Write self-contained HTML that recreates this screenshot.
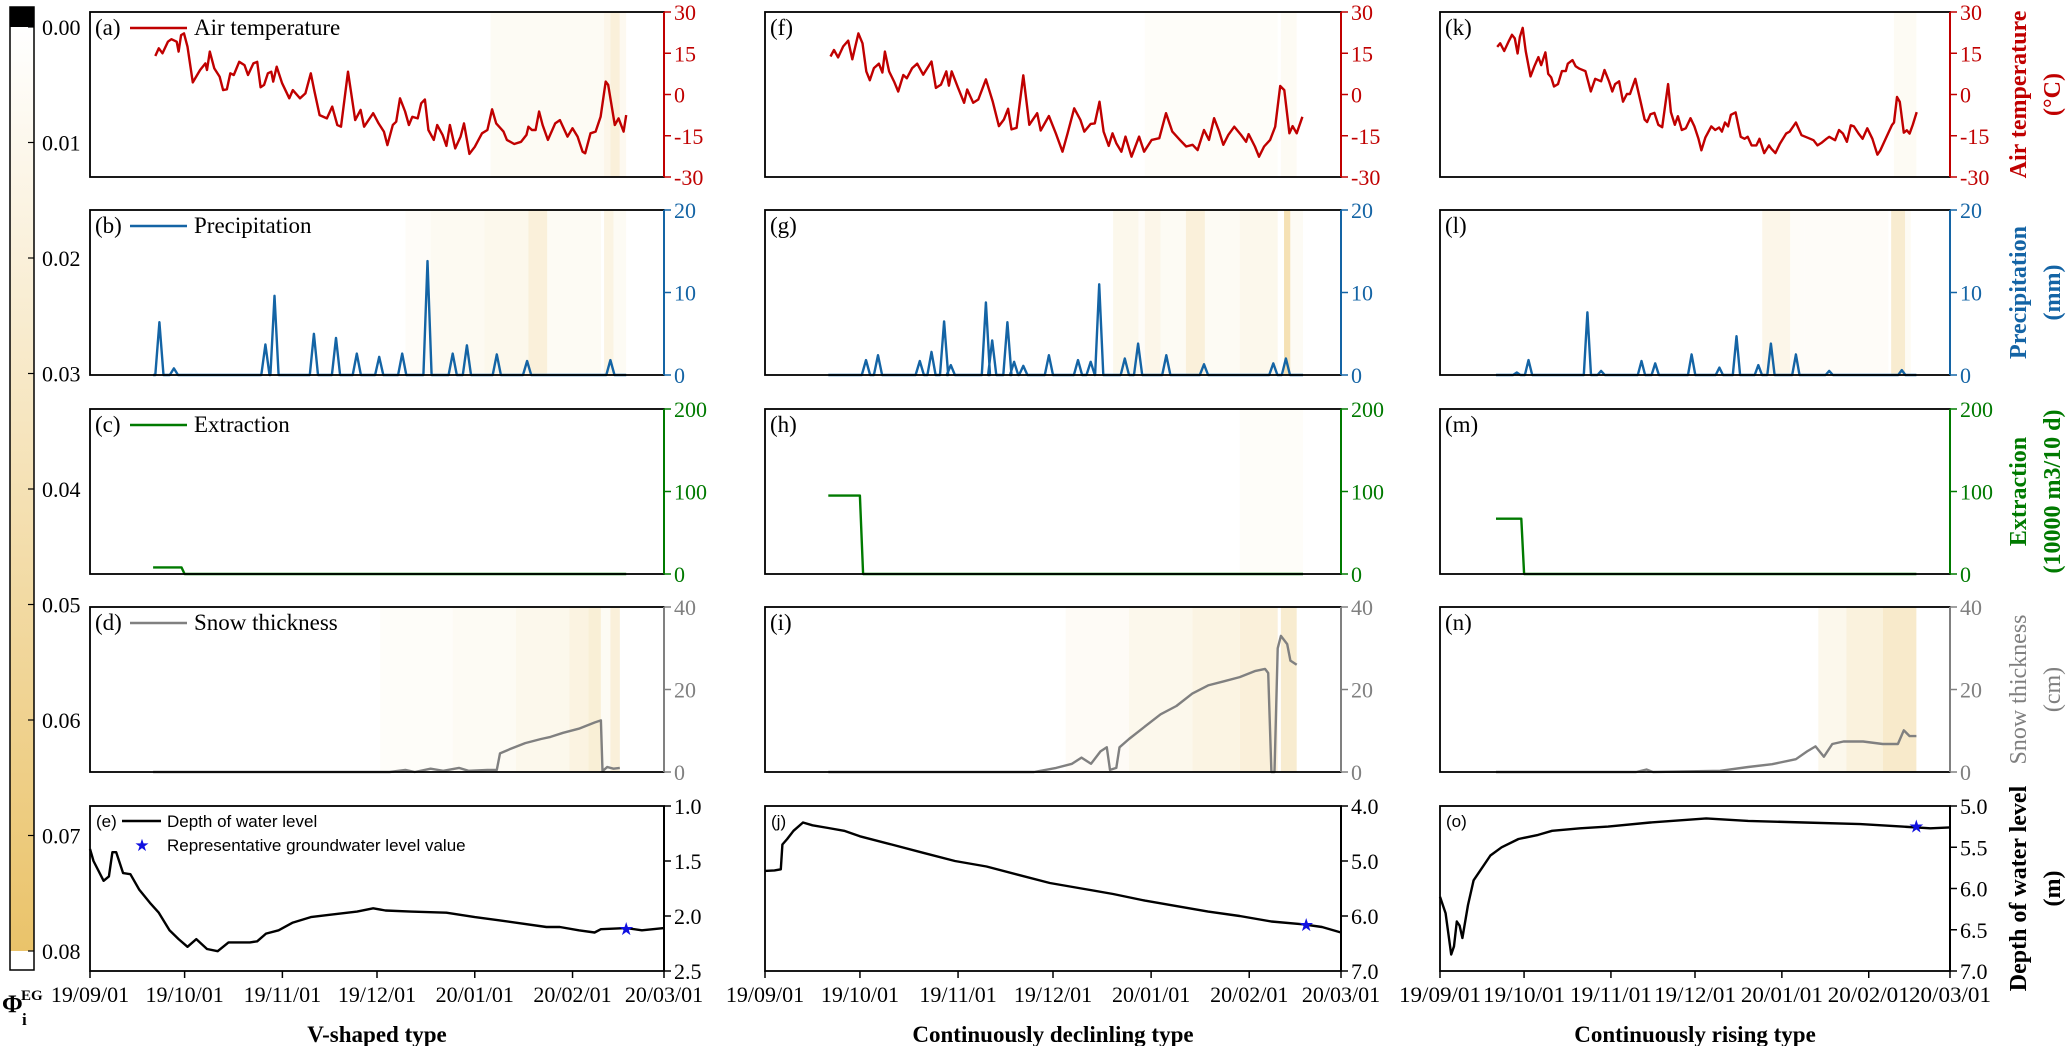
<!DOCTYPE html>
<html><head><meta charset="utf-8"><title>Groundwater types</title>
<style>
html,body{margin:0;padding:0;background:#fff;}
svg{display:block;font-family:"Liberation Serif",serif;}
</style></head>
<body>
<svg id="chart" width="2067" height="1046" viewBox="0 0 2067 1046" xmlns="http://www.w3.org/2000/svg">
<defs>
<linearGradient id="cbgrad" x1="0" y1="0" x2="0" y2="1">
<stop offset="0" stop-color="#ffffff"/><stop offset="1" stop-color="#eac36a"/>
</linearGradient>
</defs>
<g>
<rect x="10" y="7" width="24" height="20" fill="#000"/>
<rect x="10" y="27" width="24" height="924" fill="url(#cbgrad)"/>
<rect x="10" y="7" width="24" height="963" fill="none" stroke="#000" stroke-width="1.5"/>
<text x="2" y="1012" font-size="25" font-weight="bold">Φ</text>
<text x="21" y="1000" font-size="15" font-weight="bold">EG</text>
<text x="22" y="1025" font-size="17" font-weight="bold">i</text>
</g>
<g id="plots"></g>
</svg>
<script>
// ---------- data ----------
const tickDays = [0,30,61,91,122,153,182];
const tickLabels = ['19/09/01','19/10/01','19/11/01','19/12/01','20/01/01','20/02/01','20/03/01'];
const cbTicks = [0,0.01,0.02,0.03,0.04,0.05,0.06,0.07,0.08];
const typeLabels = ['V-shaped type','Continuously declinling type','Continuously rising type'];

const temp1Day = [20.7,21.8,23.0,24.7,25.8,27.5,28.1,28.9,29.8,30.9,32.6,34.9,36.6,37.1,38.0,39.4,41.1,42.2,43.4,44.5,45.6,47.3,49.0,50.1,51.8,53.0,54.1,55.2,56.4,57.5,58.1,59.2,60.9,63.2,64.3,66.6,68.3,70.0,71.1,72.8,75.1,76.8,78.4,79.6,81.8,84.1,85.8,86.9,89.8,91.5,93.2,94.3,96.0,97.1,98.3,99.9,101.1,102.2,103.9,105.0,106.2,107.3,109.0,110.1,111.8,113.0,114.1,115.8,117.5,118.6,120.3,122.0,124.3,126.0,127.5,128.8,131.1,132.2,134.5,136.7,138.4,139.0,140.1,141.3,142.4,143.5,145.2,147.5,149.0,151.4,153.0,154.6,156.2,157.0,158.7,160.3,161.9,163.5,164.3,166.4,167.6,169.2,170.0];
const temp1Val = [14.0,16.8,15.0,19.2,20.1,19.2,15.6,21.6,22.2,17.4,4.4,8.9,11.3,8.9,15.6,9.5,6.5,1.6,1.9,7.7,7.1,11.9,10.7,7.1,11.3,11.9,2.6,3.5,7.7,8.3,4.7,10.1,4.1,-1.4,1.6,-1.4,0.4,7.7,1.6,-7.5,-8.7,-4.4,-11.1,-11.7,8.3,-9.3,-5.6,-11.7,-6.8,-10.5,-13.5,-18.4,-11.1,-9.9,-1.4,-6.2,-11.1,-8.1,-8.7,-3.2,-1.8,-12.9,-16.5,-11.1,-14.7,-18.7,-11.1,-19.6,-15.3,-10.5,-21.6,-19.0,-14.1,-12.9,-5.4,-10.5,-13.5,-16.5,-18.0,-17.2,-14.7,-11.7,-12.9,-12.9,-6.2,-11.1,-16.5,-10.5,-9.3,-15.3,-12.3,-15.3,-20.8,-21.4,-14.1,-13.5,-8.1,4.7,3.5,-11.1,-8.7,-13.5,-7.5];
const temp2Day = [20.7,21.8,23.1,24.7,26.3,27.6,29.5,30.8,32.0,33.1,34.4,36.0,37.1,37.9,39.2,40.8,42.1,43.7,44.8,46.5,48.1,50.0,52.6,54.0,55.6,57.3,58.1,59.0,61.0,62.9,63.9,65.8,67.4,69.8,71.9,73.9,75.5,76.8,77.9,79.5,81.6,83.5,86.0,87.1,89.7,91.9,94.0,95.6,97.7,99.7,100.9,102.9,104.2,105.7,107.0,108.6,109.8,111.0,112.6,113.9,115.8,118.2,119.8,122.2,124.6,126.7,128.7,131.1,133.1,135.1,136.7,138.7,140.3,141.9,143.5,144.8,146.4,148.3,150.4,152.0,152.8,154.8,156.1,157.7,159.6,161.2,162.8,164.1,165.7,166.7,168.0,169.8];
const temp2Val = [13.8,16.2,13.5,17.5,19.6,12.8,22.2,18.6,8.4,5.2,9.6,11.2,8.0,15.6,8.4,4.7,1.1,7.1,5.9,9.6,11.2,7.2,12.0,2.4,3.6,8.4,3.2,8.4,2.4,-3.0,1.8,-3.0,-1.8,5.5,-2.4,-11.5,-9.1,-5.2,-12.7,-12.1,7.0,-11.0,-6.8,-13.1,-7.8,-14.1,-20.8,-14.1,-5.0,-9.3,-13.5,-10.7,-10.5,-2.6,-13.5,-18.7,-14.1,-17.7,-20.8,-15.3,-22.6,-15.3,-20.8,-16.5,-15.9,-6.8,-13.5,-16.5,-18.9,-18.3,-20.2,-12.9,-16.5,-8.6,-13.5,-18.3,-14.7,-11.7,-14.7,-17.2,-14.4,-18.9,-22.6,-18.9,-16.5,-11.7,3.1,1.6,-14.1,-11.5,-14.1,-8.1];
const temp3Day = [20.4,21.5,22.9,24.6,25.7,26.7,27.7,28.5,29.5,30.6,32.3,33.7,35.1,36.1,37.6,38.6,39.7,40.7,42.1,43.5,44.9,45.6,47.3,48.4,49.8,51.9,53.8,55.4,57.5,58.7,60.3,61.5,62.5,63.9,65.3,66.7,67.8,69.7,71.6,73.0,73.9,75.1,76.5,77.9,79.3,81.4,82.4,83.8,84.9,86.3,87.7,89.4,90.8,92.2,93.3,94.7,96.8,98.2,99.6,100.6,101.7,102.8,103.8,105.5,107.3,108.7,109.8,111.2,112.9,114.0,115.7,117.4,118.3,119.7,121.3,123.5,124.8,127.0,129.0,131.2,133.3,134.7,136.1,137.9,138.9,141.0,142.4,143.8,145.2,146.6,147.7,149.4,150.8,152.5,154.3,156.1,157.1,159.2,161.3,162.0,163.1,164.1,165.5,166.6,167.6,168.7,170.1];
const temp3Val = [17.3,18.6,15.8,19.5,21.7,20.4,14.9,21.0,24.2,15.8,6.6,10.3,13.6,10.7,15.3,7.5,6.2,2.9,3.8,8.5,8.5,11.2,12.5,10.3,9.4,8.5,1.1,5.7,4.8,8.9,4.8,1.1,3.8,4.8,-2.6,0.2,0.2,5.7,-2.6,-9.1,-10.0,-7.2,-6.7,-11.0,-11.9,3.8,-6.4,-11.0,-7.9,-12.9,-12.3,-8.6,-11.6,-16.0,-20.3,-15.6,-11.6,-12.9,-12.0,-13.5,-10.2,-11.6,-7.4,-6.5,-15.4,-16.1,-15.4,-18.5,-18.5,-16.1,-21.3,-18.5,-19.8,-21.3,-17.9,-14.2,-13.5,-10.2,-14.8,-15.7,-16.6,-18.5,-17.6,-16.1,-15.4,-16.6,-12.9,-14.2,-17.2,-11.2,-11.6,-14.2,-16.1,-12.3,-16.1,-21.9,-20.4,-15.7,-11.1,-10.2,-0.9,-2.7,-13.9,-13.0,-14.2,-11.1,-6.4];

const precip1Day = [22,26.6,55.6,58.5,71,78,84.6,91.7,99,107,115,119.5,129,138.6,165];
const precip1Val = [6.4,0.8,3.7,9.6,5.0,4.5,2.6,2.2,2.6,13.8,2.6,3.6,2.5,1.7,1.8];
const precip2Day = [31.9,35.7,48.9,52.6,56.6,58.7,69.8,71.8,76.6,78.7,81.6,89.7,98.9,102.9,105.6,113.7,117.9,126.8,138.7,160.6,164.6];
const precip2Val = [1.8,2.4,1.7,2.8,6.5,1.2,8.8,4.2,6.4,1.6,1.1,2.4,1.8,1.6,11.0,2.0,3.8,2.4,1.3,1.4,2.0];
const precip3Day = [27.4,31.6,52.6,57.5,71.9,76.8,89.8,99.7,105.8,113.6,118.1,127,138.9,164.8];
const precip3Val = [0.3,1.8,7.6,0.5,1.7,1.4,2.5,0.9,4.7,1.2,3.8,2.5,0.5,0.6];

const extr1Day = [20,29,30,170]; const extr1Val = [8,8,0,0];
const extr2Day = [20,30,31,170]; const extr2Val = [95,95,0,0];
const extr3Day = [20,29,30,170]; const extr3Val = [67,67,0,0];

const snow1Day = [20,95,100,103,108,112,117,120,126,129,130,133,138,143,146,150,155,160,162,162.5,164,166,168];
const snow1Val = [0,0,0.5,0,0.8,0.3,1.0,0.3,0.5,0.5,4.5,5.5,7,8,8.5,9.5,10.5,12,12.5,0.2,1.2,0.8,1];
const snow2Day = [20,85,92,97,100,103,106,108,109,111,112,115,120,125,130,135,140,145,150,155,158,159,160,161,162,163,165,166,168];
const snow2Val = [0,0,1,2,3.5,2,5,6,0.5,1,6,8,11,14,16,19,21,22,23,24.5,25,24,0,0,30,33,31,27,26];
const snow3Day = [20,70,73.7,76,100,110,118.5,127,131,134,137,140,144,151,158,163.4,165.5,167.6,170];
const snow3Val = [0,0,0.6,0,0.3,1.2,1.9,3.1,5,6.2,3.7,6.8,7.4,7.4,6.8,6.8,10.1,8.7,8.7];

const depth1Day = [0,1.1,4.3,6.0,7.1,8.3,10.5,12.8,15.6,19.0,21.8,25.2,28.1,30.9,33.7,37.1,40.5,43.9,50.7,53.0,55.8,59.8,64.3,70.0,75.6,84.7,89.8,93.7,101.7,113.0,122.0,130.0,144.7,149,155,160,162,170,175,182];
const depth1Val = [1.39,1.50,1.68,1.64,1.42,1.42,1.61,1.62,1.76,1.88,1.97,2.13,2.21,2.28,2.21,2.30,2.32,2.24,2.24,2.23,2.16,2.13,2.06,2.01,1.99,1.96,1.93,1.95,1.96,1.97,2.01,2.04,2.10,2.10,2.13,2.15,2.12,2.11,2.13,2.11];
const depth2Day = [0,3,5,5.5,7,9,12,15,20,25,30,40,50,60,70,80,90,100,110,120,130,140,150,160,170,176,182];
const depth2Val = [5.18,5.17,5.15,4.7,4.6,4.45,4.3,4.35,4.4,4.45,4.55,4.7,4.85,5.0,5.1,5.25,5.4,5.5,5.6,5.72,5.82,5.92,6.0,6.1,6.15,6.2,6.3];
const depth3Day = [0,2,4,5,6,7,8,10,12,15,18,22,28,35,40,50,60,75,95,110,130,150,165,175,182];
const depth3Val = [6.1,6.3,6.8,6.7,6.4,6.45,6.6,6.2,5.9,5.75,5.6,5.5,5.4,5.35,5.3,5.27,5.25,5.2,5.15,5.18,5.2,5.22,5.25,5.27,5.26];
const starDay = [170,171,170];
const starVal = [2.12,6.16,5.25];

// shading bands: [startDay, endDay, phi]
const shade = {
 '0-0':[[127,163,0.006],[163,165,0.012],[165,168,0.02],[168,170,0.008]],
 '0-1':[[100,108,0.004],[108,125,0.007],[125,139,0.01],[139,145,0.02],[145,162,0.006],[163,166,0.015],[166,170,0.006]],
 '0-3':[[92,115,0.003],[115,135,0.006],[135,152,0.01],[152,158,0.016],[158,162,0.022],[162,165,0.006],[165,168,0.02]],
 '1-0':[[120,162,0.003],[163,168,0.006]],
 '1-1':[[110,118,0.01],[118,120,0.004],[120,125,0.012],[125,133,0.006],[133,139,0.02],[139,150,0.006],[150,162,0.01],[164,166,0.04],[166,170,0.006]],
 '1-2':[[150,170,0.003]],
 '1-3':[[95,115,0.005],[115,135,0.01],[135,150,0.015],[150,162,0.02],[163,168,0.025]],
 '2-0':[[162,170,0.006]],
 '2-1':[[115,125,0.012],[125,130,0.004],[130,160,0.004],[161,166,0.025],[166,168,0.006]],
 '2-3':[[135,145,0.01],[145,158,0.018],[158,170,0.028]]
};

// ---------- layout ----------
const NS = 'http://www.w3.org/2000/svg';
const svg = document.getElementById('plots');
const cols = [{x:90,w:574},{x:765,w:576},{x:1440,w:510}];
const rowTop = [12,210,409,607,806];
const PH = 165;
const rows = [
 {key:'temp',color:'#c00000',min:-30,max:30,ticks:[30,15,0,-15,-30],label:'Air temperature',title:['Air temperature','(°C)'],bold:true},
 {key:'precip',color:'#1464a5',min:0,max:20,ticks:[0,10,20],label:'Precipitation',title:['Precipitation','(mm)'],bold:true},
 {key:'extr',color:'#007a00',min:0,max:200,ticks:[0,100,200],label:'Extraction',title:['Extraction','(10000 m3/10 d)'],bold:true},
 {key:'snow',color:'#808080',min:0,max:40,ticks:[0,20,40],label:'Snow thickness',title:['Snow thickness','(cm)'],bold:false},
 {key:'depth',color:'#000000',label:'Depth of water level',title:['Depth of water level','(m)'],bold:true}
];
const depthAxes = [{min:1.0,max:2.5,ticks:[1.0,1.5,2.0,2.5]},{min:4.0,max:7.0,ticks:[4.0,5.0,6.0,7.0]},{min:5.0,max:7.0,ticks:[5.0,5.5,6.0,6.5,7.0]}];
const letters = [['a','b','c','d','e'],['f','g','h','i','j'],['k','l','m','n','o']];
const series = {
 temp:[[temp1Day,temp1Val],[temp2Day,temp2Val],[temp3Day,temp3Val]],
 extr:[[extr1Day,extr1Val],[extr2Day,extr2Val],[extr3Day,extr3Val]],
 snow:[[snow1Day,snow1Val],[snow2Day,snow2Val],[snow3Day,snow3Val]],
 depth:[[depth1Day,depth1Val],[depth2Day,depth2Val],[depth3Day,depth3Val]]
};
const precip = [[precip1Day,precip1Val],[precip2Day,precip2Val],[precip3Day,precip3Val]];

function mk(tag, attrs, parent){
  const el = document.createElementNS(NS, tag);
  for (const k in attrs) el.setAttribute(k, attrs[k]);
  (parent||svg).appendChild(el);
  return el;
}
function phiColor(v){
  const t = Math.max(0, Math.min(1, v/0.08));
  const r = Math.round(255 + (234-255)*t), g = Math.round(255 + (195-255)*t), b = Math.round(255 + (106-255)*t);
  return 'rgb('+r+','+g+','+b+')';
}

cbTicks.forEach(function(v){
  const y = 27 + v/0.08*924;
  const tk = mk('line',{x1:34,x2:28,y1:y,y2:y,stroke:'#000','stroke-width':1.2});
  
  
  const tl = mk('text',{x:42,y:y+8,'font-size':22});
  
  
  tl.textContent = v.toFixed(2);
});

cols.forEach(function(c, ci){
  const xs = function(d){ return c.x + d/182*c.w; };
  rows.forEach(function(r, ri){
    const top = rowTop[ri], bot = top + PH;
    let min = r.min, max = r.max, ticks = r.ticks;
    if (r.key === 'depth'){ min = depthAxes[ci].min; max = depthAxes[ci].max; ticks = depthAxes[ci].ticks; }
    const ys = r.key === 'depth'
      ? function(v){ return top + (v-min)/(max-min)*PH; }
      : function(v){ return bot - (v-min)/(max-min)*PH; };
    const g = mk('g',{});
    
    

    (shade[ci+'-'+ri] || []).forEach(function(b){
      const rc = mk('rect',{x:xs(b[0]),y:top,width:xs(b[1])-xs(b[0]),height:PH,fill:phiColor(b[2])}, g);
      
      
    });

    let pts = [];
    if (r.key === 'precip'){
      const pd = precip[ci][0], pv = precip[ci][1];
      pts.push([20,0]);
      pd.forEach(function(d,i){ pts.push([d-1.3,0],[d,pv[i]],[d+1.3,0]); });
      pts.push([170,0]);
    } else {
      const s = series[r.key][ci];
      s[0].forEach(function(d,i){ pts.push([d, s[1][i]]); });
    }
    const path = mk('polyline',{points:pts.map(function(p){return xs(p[0]).toFixed(1)+','+ys(p[1]).toFixed(1);}).join(' '),fill:'none',stroke:r.color,'stroke-width':2.4,'stroke-linejoin':'round'}, g);
    
    

    if (r.key === 'depth'){
      const st = mk('text',{x:xs(starDay[ci]),y:ys(starVal[ci])+6,'font-size':18,fill:'#1010e0','text-anchor':'middle','font-family':'DejaVu Sans, sans-serif'}, g);
      
      
      st.textContent = '★';
    }

    const fr = mk('rect',{x:c.x,y:top,width:c.w,height:PH,fill:'none',stroke:'#000','stroke-width':1.8}, g);
    
    
    const sp = mk('line',{x1:c.x+c.w,x2:c.x+c.w,y1:top,y2:bot,stroke:r.color,'stroke-width':2}, g);
    
    

    ticks.forEach(function(v){
      const y = ys(v);
      const tk = mk('line',{x1:c.x+c.w,x2:c.x+c.w+7,y1:y,y2:y,stroke:r.color,'stroke-width':1.5}, g);
      
      
      const tl = mk('text',{x:c.x+c.w+10,y:y+8,'font-size':22,fill:r.color}, g);
      
      
      tl.textContent = r.key === 'depth' ? v.toFixed(1) : String(v);
    });

    if (r.key === 'depth'){
      const lt = mk('text',{x:c.x+6,y:top+21,'font-size':17,'font-family':'Liberation Sans, sans-serif'}, g);
      
      
      lt.textContent = '(' + letters[ci][ri] + ')';
      if (ci === 0){
        const ll = mk('line',{x1:c.x+32,x2:c.x+71,y1:top+15,y2:top+15,stroke:'#000','stroke-width':2.4}, g);
        
        
        const lx = mk('text',{x:c.x+77,y:top+21,'font-size':17,'font-family':'Liberation Sans, sans-serif'}, g);
        
        
        lx.textContent = 'Depth of water level';
        const ls = mk('text',{x:c.x+52,y:top+45,'font-size':17,fill:'#1010e0','text-anchor':'middle','font-family':'DejaVu Sans, sans-serif'}, g);
        
        
        ls.textContent = '★';
        const lv = mk('text',{x:c.x+77,y:top+45,'font-size':17,'font-family':'Liberation Sans, sans-serif'}, g);
        
        
        lv.textContent = 'Representative groundwater level value';
      }
    } else {
      const lt = mk('text',{x:c.x+5,y:top+23,'font-size':23}, g);
      
      
      lt.textContent = '(' + letters[ci][ri] + ')';
      if (ci === 0){
        const ll = mk('line',{x1:c.x+40,x2:c.x+97,y1:top+16,y2:top+16,stroke:r.color,'stroke-width':2.6}, g);
        
        
        const lx = mk('text',{x:c.x+104,y:top+23,'font-size':23}, g);
        
        
        lx.textContent = r.label;
      }
    }

    if (ci === 2){
      const cy = top + PH/2;
      r.title.forEach(function(t, k){
        const tx = 2026 + k*34;
        const tt = mk('text',{x:tx,y:cy,'font-size':24,fill:r.color,'font-weight':r.bold?'bold':'normal','text-anchor':'middle',transform:'rotate(-90 '+tx+' '+cy+')'}, g);
        
        
        tt.textContent = t;
      });
    }

    if (ri === 4){
      tickDays.forEach(function(d, k){
        const x = xs(d);
        const tk = mk('line',{x1:x,x2:x,y1:bot,y2:bot+7,stroke:'#000','stroke-width':1.5}, g);
        
        
        const attrs = {x:x,y:bot+31,'font-size':22,'text-anchor':'middle'};
        if (ci === 2){ attrs.textLength = 82; attrs.lengthAdjust = 'spacingAndGlyphs'; }
        const tl = mk('text',attrs, g);
        
        
        tl.textContent = tickLabels[k];
      });
      const tl = mk('text',{x:c.x+c.w/2,y:1042,'font-size':23,'font-weight':'bold','text-anchor':'middle'}, g);
      
      
      tl.textContent = typeLabels[ci];
    }
  });
});
</script>
</body></html>
